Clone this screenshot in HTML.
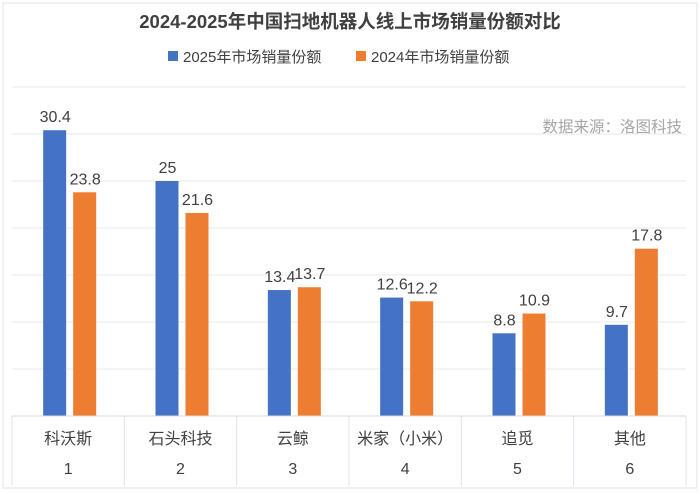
<!DOCTYPE html>
<html><head><meta charset="utf-8"><style>
body{margin:0;background:#fff;font-family:"Liberation Sans","Noto Sans CJK SC",sans-serif;}
svg{display:block}
</style></head><body>
<svg width="700" height="494" font-family="Liberation Sans, Noto Sans CJK SC, sans-serif">
<rect x="3" y="3" width="694" height="485" fill="#fff" stroke="#e3e3e3"/>
<text x="350" y="28" text-anchor="middle" font-size="18.5" font-weight="bold" fill="#404040">2024-2025年中国扫地机器人线上市场销量份额对比</text>
<g>
<rect x="168" y="51" width="10" height="10" fill="#4472c4"/>
<text x="183" y="62" font-size="15" fill="#404040">2025年市场销量份额</text>
<rect x="356" y="51" width="10" height="10" fill="#ed7d31"/>
<text x="371" y="62" font-size="15" fill="#404040">2024年市场销量份额</text>
</g>
<text x="682" y="132" text-anchor="end" font-size="15.5" fill="#a6a6a6">数据来源：洛图科技</text>
<g id="grid"></g><g id="bars"></g><g id="table"></g>
<script>
const categories=["科沃斯","石头科技","云鲸","米家（小米）","追觅","其他"];
const indices=["1","2","3","4","5","6"];
const s2025=[30.4,25,13.4,12.6,8.8,9.7];
const s2024=[23.8,21.6,13.7,12.2,10.9,17.8];
const gridTicks=[0,5,10,15,20,25,30,35];
const NS="http://www.w3.org/2000/svg";
const x0=12,x1=686,base=416,ppu=9.4;
const cw=(x1-x0)/categories.length;
function y(v){return base-v*ppu;}
function mk(t,a,p){const e=document.createElementNS(NS,t);for(const k in a)e.setAttribute(k,a[k]);p.appendChild(e);return e;}
const g=document.getElementById('grid'),b=document.getElementById('bars'),tb=document.getElementById('table');
gridTicks.forEach(v=>{const l=mk('line',{x1:x0,x2:x1,y1:y(v),y2:y(v),stroke:'#eaeaea'},g);

});
categories.forEach((c,i)=>{
 const cx=x0+cw*i+cw/2;
 const r1=mk('rect',{x:cx-25,y:y(s2025[i]),width:23,height:s2025[i]*ppu,fill:'#4472c4'},b);
 
 
 const r2=mk('rect',{x:cx+5,y:y(s2024[i]),width:23,height:s2024[i]*ppu,fill:'#ed7d31'},b);
 
 
 const t1=mk('text',{x:cx-13,y:y(s2025[i])-8,'text-anchor':'middle','font-size':16,fill:'#404040'},b);t1.textContent=s2025[i];
 
 
 const t2=mk('text',{x:cx+17,y:y(s2024[i])-8,'text-anchor':'middle','font-size':16,fill:'#404040'},b);t2.textContent=s2024[i];
 
 
 const vl=mk('line',{x1:x0+cw*i,x2:x0+cw*i,y1:base,y2:486,stroke:'#dde4f0'},tb);
 
 
 const n=mk('text',{x:cx,y:444,'text-anchor':'middle','font-size':16,fill:'#404040'},tb);n.textContent=c;
 
 
 const d=mk('text',{x:cx,y:474,'text-anchor':'middle','font-size':16,fill:'#404040'},tb);d.textContent=indices[i];
 
 
});
const vr=mk('line',{x1:x1,x2:x1,y1:base,y2:486,stroke:'#dde4f0'},tb);


const ax=mk('line',{x1:x0,x2:x1,y1:base,y2:base,stroke:'#d9d9d9'},tb);


</script>
</svg>
</body></html>
